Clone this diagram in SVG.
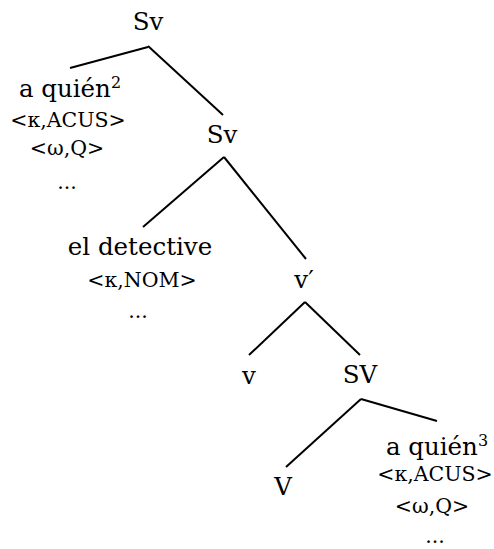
<svg xmlns="http://www.w3.org/2000/svg" width="494" height="549" viewBox="0 0 494 549">
<style>
text{font-family:"DejaVu Serif","Liberation Serif",serif;fill:#000;text-anchor:middle}
.big{font-size:24.5px}
.sm{font-size:20.5px}
.sup{font-size:16px}
line{stroke:#000;stroke-width:2}
</style>
<rect width="494" height="549" fill="#fff"/>
<g id="connectors">
<line x1="148" y1="47" x2="70" y2="68"/>
<line x1="148" y1="46" x2="223" y2="115"/>
<line x1="224" y1="157" x2="143" y2="227"/>
<line x1="224" y1="157" x2="306" y2="259"/>
<line x1="305" y1="302" x2="249" y2="355"/>
<line x1="305" y1="302" x2="360" y2="355"/>
<line x1="361" y1="399" x2="286" y2="467"/>
<line x1="361" y1="399" x2="437" y2="421"/>
</g>
<g id="sv-top"><text class="big" x="148" y="30">Sv</text></g>
<g id="aquien2">
<text class="big" x="70" y="97">a quién<tspan class="sup" dy="-9">2</tspan></text>
<text class="sm" x="68" y="127">&lt;κ,ACUS&gt;</text>
<text class="sm" x="67" y="155">&lt;ω,Q&gt;</text>
<text class="sm" x="67" y="189">...</text>
</g>
<g id="sv-2"><text class="big" x="222" y="143">Sv</text></g>
<g id="detective">
<text class="big" x="140" y="255">el detective</text>
<text class="sm" x="142" y="287">&lt;κ,NOM&gt;</text>
<text class="sm" x="138" y="318">...</text>
</g>
<g id="vbar"><text class="big" x="304" y="288">v′</text></g>
<g id="v"><text class="big" x="249" y="384">v</text></g>
<g id="SV"><text class="big" x="360" y="383">SV</text></g>
<g id="V"><text class="big" x="283" y="495">V</text></g>
<g id="aquien3">
<text class="big" x="437" y="455">a quién<tspan class="sup" dy="-9">3</tspan></text>
<text class="sm" x="435" y="481">&lt;κ,ACUS&gt;</text>
<text class="sm" x="432" y="513">&lt;ω,Q&gt;</text>
<text class="sm" x="435" y="543">...</text>
</g>
</svg>
